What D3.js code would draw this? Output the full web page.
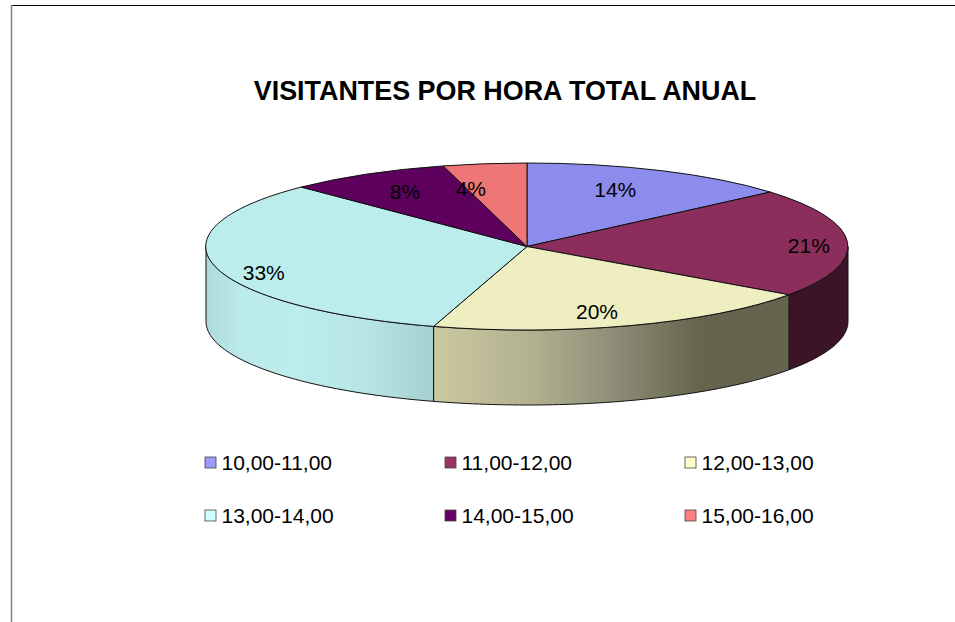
<!DOCTYPE html>
<html lang="es">
<head>
  <meta charset="UTF-8">
  <title>Visitantes por hora</title>
  <script src="https://d3js.org/d3.v7.min.js"></script>
  <style>
    * { margin: 0; padding: 0; box-sizing: border-box; }
    body { background: #fff; font-family: "Liberation Sans", Arial, sans-serif; }
    svg { display: block; }
  </style>
</head>
<body>
  <div id="chart"></div>
  <script>
    // values, the labels round them
    const hours = ["10,00-11,00", "11,00-12,00", "12,00-13,00", "13,00-14,00", "14,00-15,00", "15,00-16,00"];
    const shares = [13.7, 21.1, 19.9, 32.9, 8.2, 4.2];

    const topColors = ["#8c8cec", "#8b2e5c", "#eeeec0", "#bbeded", "#5e005e", "#ee7676"];
    const legendColors = ["#9999ff", "#993366", "#ffffcc", "#ccffff", "#660066", "#ff8080"];

    // label position for each slice, as a part of the radius along x and y
    const labelAt = [[0.275, -0.68], [0.878, -0.01], [0.218, 0.78], [-0.82, 0.31], [-0.38, -0.66], [-0.175, -0.69]];

    const width = 955, height = 622;
    const cx = 527, cy = 246.5, rx = 321, ry = 83.5, depth = 75;

    const svg = d3.select("#chart").append("svg")
      .attr("width", width)
      .attr("height", height);

    const defs = svg.append("defs");

    // x-scale over the pie width for the shading of the side walls
    const addGradient = (id, stops) => {
      const g = defs.append("linearGradient")
        .attr("id", id)
        .attr("gradientUnits", "userSpaceOnUse")
        .attr("x1", cx - rx).attr("x2", cx + rx)
        .attr("y1", 0).attr("y2", 0);
      stops.forEach(s => {
        g.append("stop")
          .attr("offset", (s[0] - (cx - rx)) / (2 * rx))
          .attr("stop-color", s[1]);
      });
    };
    addGradient("wall2", [[434, "#cbc9a1"], [530, "#b2b18f"], [610, "#90907a"], [700, "#65654e"], [848, "#64644e"]]);
    addGradient("wall3", [[206, "#aedada"], [240, "#bbeaea"], [300, "#bcecec"], [360, "#b8e6e6"], [434, "#a6d0d0"]]);
    const wallFill = {1: "#3c1428", 2: "url(#wall2)", 3: "url(#wall3)"};

    // frame, only top and left are visible
    svg.append("line").attr("x1", 12).attr("x2", width).attr("y1", 5.5).attr("y2", 5.5)
      .attr("stroke", "#000").attr("stroke-width", 1);
    svg.append("line").attr("x1", 11.5).attr("x2", 11.5).attr("y1", 5).attr("y2", height)
      .attr("stroke", "#808080").attr("stroke-width", 1.5);

    svg.append("text")
      .attr("x", 505)
      .attr("y", 100)
      .attr("text-anchor", "middle")
      .style("font-size", "26.9px")
      .style("font-weight", "bold")
      .text("VISITANTES POR HORA TOTAL ANUAL");

    const pie = d3.pie().sort(null).value(d => d);
    const slices = pie(shares);

    const ex = a => cx + rx * Math.sin(a);
    const ey = a => cy - ry * Math.cos(a);

    // side walls, only the front half of the ellipse
    const wallLine = d3.line();
    slices.forEach((d, i) => {
      const a0 = Math.max(d.startAngle, Math.PI / 2);
      const a1 = Math.min(d.endAngle, Math.PI * 1.5);
      if (a1 <= a0) return;
      const steps = d3.range(0, 61).map(k => a0 + (a1 - a0) * k / 60);
      const pts = steps.map(a => [ex(a), ey(a)])
        .concat(steps.slice().reverse().map(a => [ex(a), ey(a) + depth]));
      svg.append("path")
        .attr("d", wallLine(pts) + "Z")
        .attr("fill", wallFill[i])
        .attr("stroke", "#111")
        .attr("stroke-width", 1);
    });

    // top face
    const arc = d3.arc().innerRadius(0).outerRadius(1);
    svg.append("g")
      .attr("transform", `translate(${cx},${cy}) scale(${rx},${ry})`)
      .selectAll("path")
      .data(slices)
      .enter()
      .append("path")
      .attr("d", arc)
      .attr("fill", (d, i) => topColors[i])
      .attr("stroke", "#111")
      .attr("stroke-width", 1)
      .attr("vector-effect", "non-scaling-stroke");

    svg.selectAll(".label")
      .data(slices)
      .enter()
      .append("text")
      .attr("class", "label")
      .attr("x", (d, i) => cx + labelAt[i][0] * rx)
      .attr("y", (d, i) => cy + labelAt[i][1] * ry)
      .attr("dy", "0.36em")
      .attr("text-anchor", "middle")
      .style("font-size", "21px")
      .text(d => d3.format(".0f")(d.data) + "%");

    // legend, 3 x 2
    const legendX = d3.scalePoint().domain([0, 1, 2]).range([205, 685]);
    const legendY = d3.scalePoint().domain([0, 1]).range([462, 515]);

    const legend = svg.selectAll(".legend")
      .data(hours)
      .enter()
      .append("g")
      .attr("class", "legend")
      .attr("transform", (d, i) => `translate(${legendX(i % 3)},${legendY(Math.floor(i / 3))})`);

    legend.append("rect")
      .attr("x", 0).attr("y", -5)
      .attr("width", 11).attr("height", 11)
      .attr("fill", (d, i) => legendColors[i])
      .attr("stroke", "#444")
      .attr("stroke-width", 0.8);

    legend.append("text")
      .attr("x", 16.5)
      .attr("dy", "0.36em")
      .style("font-size", "21px")
      .text(d => d);
  </script>
</body>
</html>
